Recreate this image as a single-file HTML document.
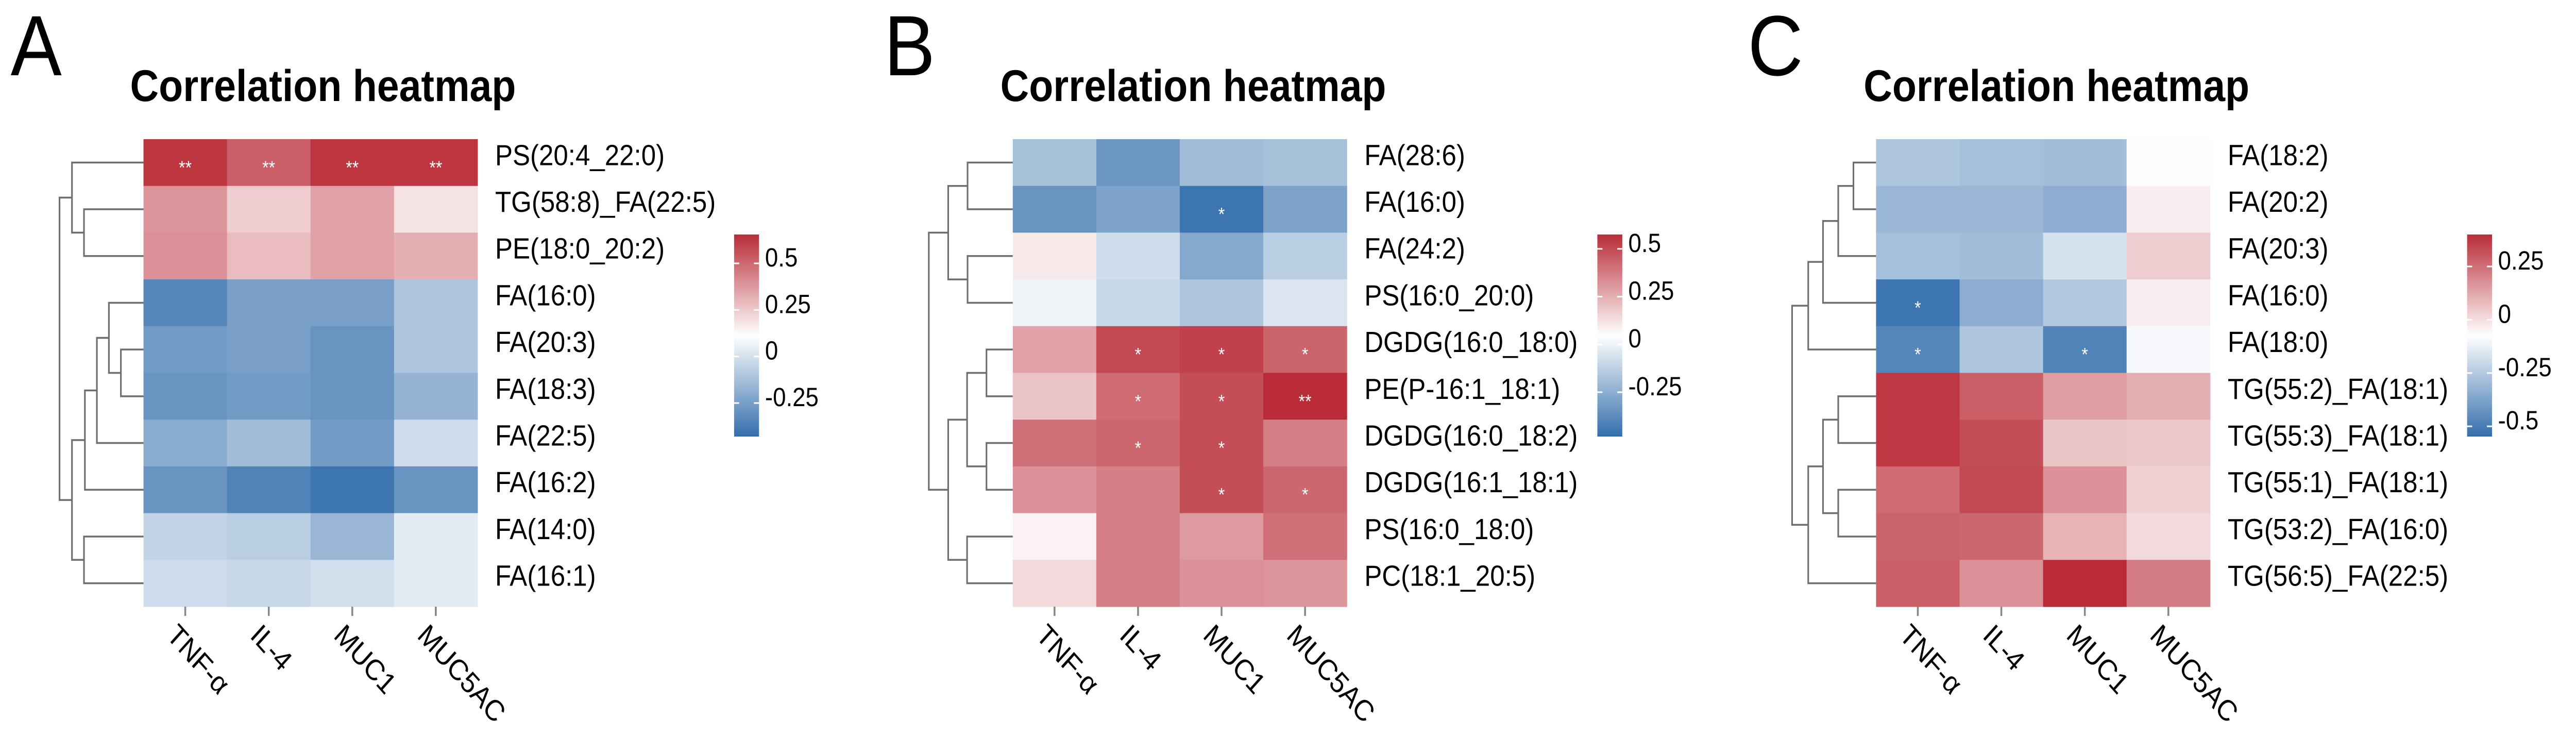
<!DOCTYPE html>
<html><head><meta charset="utf-8"><style>
html,body{margin:0;padding:0;background:#fff;overflow:hidden;width:100%;height:100%;}
svg{display:block;font-family:"Liberation Sans",Arial,sans-serif;width:100vw;height:100vh;}
</style></head><body>
<svg id="fig" viewBox="0 0 5583 1428" preserveAspectRatio="none" xmlns="http://www.w3.org/2000/svg"></svg>
<script>
// ---------- shared categories ----------
const columnLabels = ["TNF-\u03b1", "IL-4", "MUC1", "MUC5AC"];

// ---------- Panel A data ----------
const rowsA = ["PS(20:4_22:0)","TG(58:8)_FA(22:5)","PE(18:0_20:2)","FA(16:0)","FA(20:3)","FA(18:3)","FA(22:5)","FA(16:2)","FA(14:0)","FA(16:1)"];
const valuesA = [
  [0.633,0.525,0.633,0.633],
  [0.384,0.243,0.351,0.188],
  [0.395,0.286,0.351,0.319],
  [-0.343,-0.246,-0.246,-0.105],
  [-0.267,-0.246,-0.289,-0.105],
  [-0.289,-0.267,-0.289,-0.170],
  [-0.202,-0.137,-0.267,-0.018],
  [-0.289,-0.354,-0.408,-0.289],
  [-0.050,-0.072,-0.159,0.037],
  [-0.018,-0.039,-0.007,0.037]
];
const starsA = [["**","**","**","**"],["","","",""],["","","",""],["","","",""],["","","",""],["","","",""],["","","",""],["","","",""],["","","",""],["","","",""]];
const rangeA = [-0.43, 0.655];
const legendTicksA = [0.5, 0.25, 0, -0.25];
const mergesA = [[1,2,129],[0,10,155],[4,5,49],[3,12,75],[13,6,101],[14,7,127],[8,9,129],[15,16,155],[11,17,182]];

// ---------- Panel B data ----------
const rowsB = ["FA(28:6)","FA(16:0)","FA(24:2)","PS(16:0_20:0)","DGDG(16:0_18:0)","PE(P-16:1_18:1)","DGDG(16:0_18:2)","DGDG(16:1_18:1)","PS(16:0_18:0)","PC(18:1_20:5)"];
const valuesB = [
  [-0.186,-0.334,-0.197,-0.186],
  [-0.345,-0.292,-0.461,-0.292],
  [0.099,-0.080,-0.271,-0.133],
  [0.004,-0.101,-0.165,-0.049],
  [0.279,0.501,0.522,0.438],
  [0.194,0.416,0.490,0.575],
  [0.406,0.427,0.490,0.364],
  [0.321,0.364,0.490,0.427],
  [0.078,0.364,0.300,0.406],
  [0.142,0.364,0.321,0.311]
];
const starsB = [["","","",""],["","","*",""],["","","",""],["","","",""],["","*","*","*"],["","*","*","**"],["","*","*",""],["","","*","*"],["","","",""],["","","",""]];
const rangeB = [-0.482, 0.575];
const legendTicksB = [0.5, 0.25, 0, -0.25];
const mergesB = [[0,1,98],[2,3,98],[10,11,140],[4,5,57],[6,7,57],[13,14,99],[8,9,99],[15,16,140],[12,17,182]];

// ---------- Panel C data ----------
const rowsC = ["FA(18:2)","FA(20:2)","FA(20:3)","FA(16:0)","FA(18:0)","TG(55:2)_FA(18:1)","TG(55:3)_FA(18:1)","TG(55:1)_FA(18:1)","TG(53:2)_FA(16:0)","TG(56:5)_FA(22:5)"];
const valuesC = [
  [-0.264,-0.283,-0.292,-0.065],
  [-0.311,-0.311,-0.339,-0.036],
  [-0.283,-0.292,-0.169,0.040],
  [-0.529,-0.339,-0.254,-0.036],
  [-0.472,-0.264,-0.482,-0.093],
  [0.372,0.286,0.144,0.106],
  [0.372,0.324,0.059,0.049],
  [0.258,0.334,0.172,0.030],
  [0.277,0.267,0.097,0.011],
  [0.286,0.172,0.400,0.220]
];
const starsC = [["","","",""],["","","",""],["","","",""],["*","","",""],["*","","*",""],["","","",""],["","","",""],["","","",""],["","","",""],["","","",""]];
const rangeC = [-0.548, 0.40];
const legendTicksC = [0.25, 0, -0.25, -0.5];
const mergesC = [[0,1,49],[10,2,82],[11,3,115],[12,4,147],[5,6,82],[7,8,82],[14,15,115],[16,9,147],[13,17,182]];

// ---------- rendering ----------
const NS = "http://www.w3.org/2000/svg";
const svg = document.getElementById("fig");
function mk(tag, attrs, parent){
  const e = document.createElementNS(NS, tag);
  for (const k in attrs) e.setAttribute(k, attrs[k]);
  (parent||svg).appendChild(e);
  return e;
}
const RED=[185,44,55], WHITE=[255,255,255], BLUE=[52,111,172];
function colorFor(v, range){
  let t=(v-range[0])/(range[1]-range[0]); t=Math.max(0,Math.min(1,t));
  let a,b,u;
  if(t<0.5){a=BLUE;b=WHITE;u=t/0.5;} else {a=WHITE;b=RED;u=(t-0.5)/0.5;}
  const c=a.map((x,i)=>Math.round(x+(b[i]-x)*u));
  return "rgb("+c.join(",")+")";
}

const CW=181, RH=90.7, HY=270, BAR_TOP=455, BAR_BOT=847, BAR_W=54;
const panels = [
  {id:"a", letter:"A", letterX:23, titleX:282, hx:311, barX:1591, rows:rowsA, vals:valuesA, stars:starsA, range:rangeA, ticks:legendTicksA, merges:mergesA},
  {id:"b", letter:"B", letterX:1916, titleX:2168, hx:2195, barX:3462, rows:rowsB, vals:valuesB, stars:starsB, range:rangeB, ticks:legendTicksB, merges:mergesB},
  {id:"c", letter:"C", letterX:3788, titleX:4039, hx:4066, barX:5347, rows:rowsC, vals:valuesC, stars:starsC, range:rangeC, ticks:legendTicksC, merges:mergesC}
];

panels.forEach(p=>{
  const g = mk("g",{});
  
  

  const letter = mk("text",{x:p.letterX,y:146,"font-size":166,fill:"#000"},g);
  letter.textContent = p.letter;
  
  

  const title = mk("text",{x:p.titleX,y:196,"font-size":86,"font-weight":"bold",fill:"#000"},g);
  title.textContent = "Correlation heatmap";
  
  

  const xs = c => p.hx + c*CW;
  const ys = r => HY + r*RH;

  p.vals.forEach((row,r)=>{
    row.forEach((v,c)=>{
      const rect = mk("rect",{x:xs(c),y:ys(r),width:CW+0.6,height:RH+0.6,fill:colorFor(v,p.range)},g);
      
      
      const s = p.stars[r][c];
      if(s){
        const st = mk("text",{x:xs(c)+CW/2,y:ys(r)+RH/2+22,"font-size":36,fill:"#fff","text-anchor":"middle"},g);
        st.textContent = s;
        
        
      }
    });
  });

  p.rows.forEach((name,r)=>{
    const t = mk("text",{x:xs(4)+38,y:ys(r)+RH/2+5,"font-size":57,fill:"#000"},g);
    t.textContent = name;
    
    
  });

  columnLabels.forEach((name,c)=>{
    const cx = xs(c)+CW/2;
    const tk = mk("line",{x1:cx,y1:ys(10),x2:cx,y2:ys(10)+18,stroke:"#888","stroke-width":4},g);
    
    
    const t = mk("text",{transform:"translate("+(cx-14)+","+(ys(10)+30)+") rotate(45)","font-size":57,fill:"#000","dominant-baseline":"hanging"},g);
    t.textContent = name;
    
    
  });

  const nodeY = [], nodeX = [];
  for(let i=0;i<p.rows.length;i++){ nodeY[i]=ys(i)+RH/2; nodeX[i]=p.hx; }
  p.merges.forEach((m,k)=>{
    const id = p.rows.length+k;
    const x = p.hx - m[2];
    const a=m[0], b=m[1];
    const path = mk("path",{d:"M"+nodeX[a]+","+nodeY[a]+"H"+x+"V"+nodeY[b]+"H"+nodeX[b],fill:"none",stroke:"#6e6e6e","stroke-width":3.5},g);
    
    
    nodeX[id]=x; nodeY[id]=(nodeY[a]+nodeY[b])/2;
  });

  const gid = "grad-"+p.id;
  const defs = mk("defs",{},g);
  const lg = mk("linearGradient",{id:gid,x1:0,y1:1,x2:0,y2:0},defs);
  for(let i=0;i<=20;i++){
    const v = p.range[0]+(p.range[1]-p.range[0])*i/20;
    mk("stop",{offset:(i*5)+"%","stop-color":colorFor(v,p.range)},lg);
  }
  const bar = mk("rect",{x:p.barX,y:BAR_TOP,width:BAR_W,height:BAR_BOT-BAR_TOP,fill:"url(#"+gid+")"},g);
  
  
  const ly = v => BAR_BOT - (v-p.range[0])/(p.range[1]-p.range[0])*(BAR_BOT-BAR_TOP);
  p.ticks.forEach(v=>{
    const y = ly(v);
    const t1 = mk("line",{x1:p.barX,y1:y,x2:p.barX+11,y2:y,stroke:"#fff","stroke-width":3},g);
    
    
    const t2 = mk("line",{x1:p.barX+BAR_W-11,y1:y,x2:p.barX+BAR_W,y2:y,stroke:"#fff","stroke-width":3},g);
    
    
    const lab = mk("text",{x:p.barX+BAR_W+13,y:y+6,"font-size":51,fill:"#000"},g);
    lab.textContent = String(v);
    
    
  });
});
</script>
</body></html>
